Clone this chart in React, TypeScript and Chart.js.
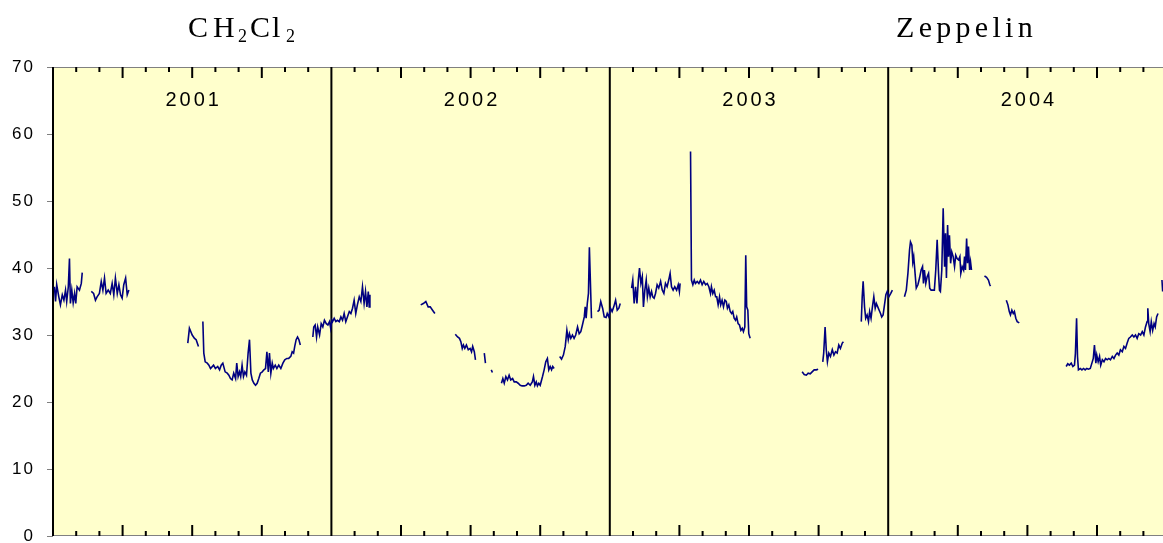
import { useEffect, useRef } from 'react';
import { Chart, registerables } from 'chart.js';

Chart.register(...registerables);

// ---- Data (x in months since Jan 2001, y in ppt) ----
const yearLabels = ['2001', '2002', '2003', '2004'];
const yTickValues = [0, 10, 20, 30, 40, 50, 60, 70];

const t2001 = [
  0.06, 0.11, 0.16, 0.25, 0.32, 0.40, 0.47, 0.54, 0.59, 0.66, 0.71, 0.75, 0.81, 0.87, 0.93, 0.98, 1.04, 1.14, 1.22, 1.26,
  1.45,
  1.65, 1.75, 1.83, 1.90, 2.00, 2.08, 2.15, 2.22, 2.29, 2.38, 2.47, 2.55, 2.62, 2.69, 2.77, 2.84, 2.91, 2.98, 3.05, 3.13, 3.20, 3.27,
  4.50,
  5.81, 5.88, 6.00, 6.10, 6.17, 6.27,
  6.37,
  6.46, 6.50, 6.56, 6.65, 6.72, 6.79, 6.92, 7.00, 7.10, 7.18, 7.25, 7.32, 7.42, 7.51, 7.58, 7.65,
  7.72, 7.79, 7.87, 7.92, 7.98, 8.04, 8.09, 8.15, 8.21, 8.27, 8.34, 8.41, 8.47, 8.53, 8.59, 8.66, 8.73, 8.80, 8.87, 8.94,
  9.02, 9.09, 9.16, 9.22, 9.28, 9.33, 9.39, 9.45, 9.50, 9.58, 9.65, 9.73, 9.82, 9.91, 9.99, 10.08, 10.16, 10.25, 10.31, 10.37,
  10.42, 10.48, 10.54, 10.60, 10.66,
  10.90,
  11.20, 11.24, 11.30, 11.36, 11.41, 11.49, 11.56, 11.63, 11.70, 11.78, 11.85, 11.92, 11.97,
];
const v2001 = [
  37.2, 35.0, 37.5, 35.7, 34.5, 36.0, 35.2, 36.7, 35.0, 37.2, 41.4, 34.7, 36.7, 34.8, 36.2, 34.7, 37.2, 36.7, 37.7, 39.3,
  null,
  36.5, 36.2, 35.2, 35.7, 36.2, 38.0, 36.7, 38.5, 36.2, 36.7, 36.2, 37.7, 36.0, 38.5, 36.2, 37.5, 36.0, 35.5, 37.5, 38.5, 36.0, 36.7,
  null,
  28.8, 31.0, 30.0, 29.5, 29.3, 28.3,
  null,
  32.0, 27.3, 26.0, 25.8, 25.5, 25.0, 25.5, 25.0, 25.3, 24.8, 25.5, 25.8, 24.5, 24.3, 24.0, 23.5,
  23.3, 24.3, 23.5, 25.8, 23.8, 24.5, 23.8, 25.5, 23.8, 24.5, 24.0, 27.3, 29.3, 24.3, 23.3, 22.8, 22.5, 22.8, 23.5, 24.3,
  24.5, 24.8, 25.0, 27.5, 24.5, 27.3, 24.3, 25.8, 25.0, 25.5, 25.0, 25.5, 25.0, 25.8, 26.3, 26.5, 26.5, 26.8, 27.5, 27.3,
  28.3, 29.3, 29.7, 29.3, 28.5,
  null,
  29.7, 31.2, 31.5, 29.7, 31.2, 30.0, 31.7, 31.2, 32.2, 31.7, 31.5, 32.0, 31.0,
];

const t2002 = [
  12.02, 12.05, 12.12, 12.19, 12.26, 12.34, 12.41, 12.48, 12.55, 12.62, 12.69, 12.77, 12.84, 12.91, 12.98, 13.05, 13.12, 13.20, 13.27, 13.34,
  13.41, 13.47, 13.53, 13.59, 13.63, 13.66,
  14.70,
  15.85, 15.96, 16.07, 16.17, 16.26, 16.36, 16.46,
  16.90,
  17.34, 17.44, 17.52, 17.58, 17.64, 17.69, 17.75, 17.82, 17.90, 17.98, 18.04, 18.09, 18.16, 18.21,
  18.40,
  18.59, 18.64,
  18.75,
  18.89, 18.94,
  19.10,
  19.33, 19.39, 19.45, 19.52, 19.59, 19.66, 19.73, 19.81, 19.88, 19.97, 20.05, 20.14, 20.22, 20.31, 20.40, 20.48, 20.57, 20.66, 20.71, 20.77,
  20.83, 20.88, 20.94, 21.00,
  21.10, 21.17, 21.24, 21.31, 21.37, 21.43, 21.49, 21.54, 21.60,
  21.72,
  21.84, 21.92, 22.00, 22.08, 22.15, 22.21, 22.26, 22.32, 22.39, 22.46, 22.53, 22.61, 22.68, 22.75, 22.82, 22.90, 22.94, 22.98, 23.03, 23.08,
  23.12, 23.17, 23.21,
  23.34,
  23.47, 23.54, 23.61, 23.69, 23.76, 23.84, 23.89, 23.96,
];
const v2002 = [
  32.2, 32.0, 32.5, 32.0, 32.2, 32.0, 32.7, 32.2, 33.2, 32.0, 32.7, 33.5, 33.2, 34.0, 35.2, 33.2, 34.5, 35.7, 35.0, 37.2,
  34.7, 36.5, 34.2, 36.5, 34.2, 36.0,
  null,
  34.5, 34.7, 35.0, 34.2, 34.2, 33.7, 33.2,
  null,
  30.1, 29.7, 29.5, 29.0, 28.0, 28.5, 28.0, 28.5, 27.8, 28.0, 27.5, 28.3, 27.5, 26.3,
  null,
  27.3, 25.8,
  null,
  24.8, 24.4,
  null,
  22.8, 23.5, 22.8, 23.8, 23.3, 24.0, 23.3, 23.5, 23.0, 23.0, 22.8, 22.5, 22.4, 22.4, 22.5, 22.8, 22.5, 23.0, 23.8, 22.5,
  23.0, 22.4, 22.8, 22.5,
  23.8, 24.8, 26.0, 26.5, 24.8, 25.3, 24.8, 25.3, 25.0,
  null,
  26.8, 26.4, 27.0, 28.3, 30.7, 29.3, 30.2, 29.5, 30.0, 29.5, 30.0, 31.2, 30.2, 30.5, 31.5, 32.7, 34.2, 32.5, 34.7, 36.2,
  43.1, 37.2, 32.5,
  null,
  33.5, 33.7, 35.0, 34.0, 32.7, 32.6, 33.2, 32.7,
];

const t2003 = [
  24.03, 24.10, 24.17, 24.25, 24.32, 24.39, 24.45,
  24.70,
  24.94, 24.99, 25.05, 25.11, 25.17, 25.23, 25.28, 25.34, 25.40, 25.45, 25.51, 25.57, 25.62, 25.68, 25.74, 25.80, 25.85, 25.91, 25.97, 26.04,
  26.11, 26.19, 26.26, 26.33, 26.40, 26.47, 26.54, 26.60, 26.66, 26.73, 26.80, 26.88, 26.95, 27.00, 27.03,
  27.25,
  27.48, 27.52, 27.58, 27.64, 27.69, 27.77, 27.84, 27.91, 27.98, 28.05, 28.13, 28.20, 28.27, 28.34, 28.38, 28.44, 28.50, 28.56, 28.61, 28.67,
  28.73, 28.78, 28.84, 28.90, 28.96, 29.02, 29.07, 29.13, 29.19, 29.25, 29.30, 29.36, 29.42, 29.47, 29.53, 29.59, 29.65, 29.71, 29.76, 29.82,
  29.86, 29.90, 29.95, 29.99, 30.05,
  31.00,
  32.29, 32.38, 32.47, 32.55, 32.64, 32.72, 32.81, 32.90, 32.98,
  33.08,
  33.18, 33.22, 33.28, 33.33, 33.38, 33.44, 33.51, 33.59, 33.66, 33.73, 33.80, 33.87, 33.94, 34.02, 34.07,
  34.40,
  34.84, 34.88, 34.92, 34.98, 35.03, 35.09, 35.15, 35.20, 35.26, 35.32, 35.38, 35.44, 35.49, 35.55, 35.61, 35.67, 35.72, 35.78, 35.84, 35.90,
  35.96,
];
const v2003 = [
  34.0, 33.5, 34.2, 35.2, 33.7, 34.0, 34.7,
  null,
  37.0, 38.2, 34.7, 37.2, 34.7, 38.2, 40.0, 37.7, 38.7, 34.2, 36.7, 38.2, 35.7, 37.0, 35.7, 36.5, 35.7, 35.5, 36.2, 37.5,
  37.0, 38.0, 36.7, 36.2, 37.7, 37.2, 38.2, 39.2, 37.2, 36.7, 37.2, 36.7, 37.5, 36.5, 37.7,
  null,
  57.4, 38.2, 37.5, 38.2, 37.7, 38.0, 37.7, 38.2, 37.5, 38.0, 37.5, 37.7, 37.2, 36.2, 37.2, 36.2, 36.7, 35.7, 35.7, 34.5,
  35.7, 34.5, 35.2, 34.2, 35.2, 35.0, 34.0, 34.5, 33.5, 33.2, 33.5, 32.5, 32.2, 32.7, 31.7, 31.5, 30.7, 31.0, 30.5, 31.2,
  41.9, 34.2, 33.7, 30.2, 29.5,
  null,
  24.5, 24.1, 24.0, 24.3, 24.2, 24.5, 24.8, 24.8, 24.9,
  null,
  26.0, 27.3, 31.2, 27.8, 26.0, 27.3, 26.8, 27.8, 27.0, 27.5, 27.3, 28.5, 28.0, 28.8, 29.0,
  null,
  32.0, 35.7, 38.0, 34.2, 32.5, 33.0, 32.0, 33.5, 32.5, 34.2, 35.7, 34.0, 34.7, 34.2, 33.7, 33.2, 32.7, 33.0, 34.5, 36.0,
  36.5,
];

const t2004 = [
  36.03, 36.11, 36.18,
  36.45,
  36.70, 36.78, 36.85, 36.92, 36.96, 37.02, 37.06, 37.10, 37.21, 37.28, 37.35, 37.42, 37.48, 37.52, 37.56, 37.62, 37.68, 37.74,
  37.79, 37.85, 37.92, 37.99, 38.05, 38.11, 38.17, 38.21, 38.25, 38.31, 38.37, 38.43, 38.47, 38.51, 38.56, 38.60, 38.64, 38.69, 38.74, 38.80,
  38.86, 38.91, 38.97, 39.03, 39.09, 39.13, 39.19, 39.25, 39.29, 39.33, 39.38, 39.42, 39.46, 39.51, 39.55, 39.59,
  39.90,
  40.15, 40.24, 40.32, 40.38, 40.41,
  40.75,
  41.09, 41.16, 41.22, 41.27, 41.33, 41.39, 41.44, 41.50, 41.56, 41.65,
  42.60,
  43.67, 43.74, 43.81, 43.89, 43.96, 44.03, 44.07, 44.12, 44.16, 44.20, 44.28, 44.35, 44.42, 44.49, 44.56, 44.63, 44.71, 44.78, 44.84, 44.89,
  44.95, 44.99, 45.05, 45.11, 45.16, 45.23, 45.30, 45.37, 45.44, 45.51, 45.58, 45.66, 45.73, 45.80, 45.87, 45.94, 46.01, 46.09, 46.16, 46.23,
  46.30, 46.37, 46.44, 46.52, 46.59, 46.66, 46.73, 46.80, 46.88, 46.95, 47.02, 47.09, 47.16, 47.19, 47.23, 47.29, 47.34, 47.40, 47.46, 47.51,
  47.57, 47.63,
  47.72,
  47.80, 47.83,
];
const v2004 = [
  35.7, 36.2, 36.7,
  null,
  35.7, 36.7, 39.2, 42.7, 43.9, 43.4, 40.9, 41.7, 37.0, 37.5, 38.5, 39.7, 40.2, 37.7, 39.7, 37.7, 38.7, 39.2,
  37.0, 36.7, 36.7, 36.7, 39.7, 44.2, 39.2, 36.7, 36.5, 39.7, 48.9, 40.2, 45.2, 38.5, 46.4, 41.7, 44.9, 40.7, 42.4, 41.7,
  40.2, 41.9, 41.4, 41.2, 41.7, 39.2, 40.2, 39.7, 41.7, 39.7, 44.4, 40.7, 43.2, 39.7, 40.9, 39.7,
  null,
  38.8, 38.6, 38.2, 37.5, 37.3,
  null,
  35.2, 34.5, 33.5, 33.0, 33.7, 33.2, 33.5, 32.5, 32.0, 31.8,
  null,
  25.3, 25.7, 25.5, 25.8, 25.3, 25.5, 27.3, 32.5, 26.8, 24.8, 25.0, 24.8, 25.0, 24.8, 25.0, 24.9, 25.0, 25.8, 26.5, 28.5,
  25.8, 27.0, 26.0, 26.8, 25.5, 26.3, 26.0, 26.5, 26.3, 26.5, 26.3, 26.8, 26.5, 27.0, 27.3, 27.0, 27.8, 27.5, 28.3, 28.0,
  28.8, 29.5, 29.7, 30.0, 29.7, 30.0, 29.5, 30.2, 30.0, 30.5, 30.0, 31.2, 32.0, 34.0, 31.7, 30.5, 32.0, 30.7, 31.7, 31.2,
  32.7, 33.2,
  null,
  38.2, 36.5,
];

const allTimes = [...t2001, ...t2002, ...t2003, ...t2004];
const allValues = [...v2001, ...v2002, ...v2003, ...v2004];

const CANVAS_W = 1180;
const CANVAS_H = 543;

const decorPlugin = {
  id: 'decor',
  beforeDraw(chart: any) {
    const { ctx, chartArea: a } = chart;
    ctx.save();
    ctx.fillStyle = '#FFFFCC';
    ctx.fillRect(a.left, a.top, a.right - a.left, a.bottom - a.top);
    ctx.restore();
    (ctx as any).letterSpacing = '2px';
  },
  beforeDatasetsDraw(chart: any) {
    const { ctx, chartArea: a, scales } = chart;
    (ctx as any).letterSpacing = '0px';
    const xs = scales.x;
    ctx.save();
    // gray top/bottom border
    ctx.strokeStyle = '#808080';
    ctx.lineWidth = 1;
    ctx.beginPath();
    ctx.moveTo(a.left, a.top + 0.5);
    ctx.lineTo(a.right, a.top + 0.5);
    ctx.moveTo(a.left, a.bottom - 0.5);
    ctx.lineTo(a.right, a.bottom - 0.5);
    ctx.stroke();
    // year separators and left axis
    ctx.strokeStyle = '#000000';
    ctx.lineWidth = 2;
    ctx.beginPath();
    for (let y = 0; y < 4; y++) {
      const px = xs.getPixelForValue(y * 12);
      ctx.moveTo(px, a.top);
      ctx.lineTo(px, a.bottom);
    }
    ctx.stroke();
    // month ticks (inward, top and bottom)
    ctx.beginPath();
    for (let k = 1; k < 48; k++) {
      if (k % 12 === 0) continue;
      const px = xs.getPixelForValue(k);
      const len = k % 3 === 0 ? 11 : 5;
      ctx.moveTo(px, a.top);
      ctx.lineTo(px, a.top + len);
      ctx.moveTo(px, a.bottom);
      ctx.lineTo(px, a.bottom - len);
    }
    ctx.stroke();
    // year labels
    ctx.fillStyle = '#000000';
    ctx.font = '20px "Liberation Sans", Arial, sans-serif';
    (ctx as any).letterSpacing = '3px';
    ctx.textAlign = 'center';
    ctx.textBaseline = 'alphabetic';
    yearLabels.forEach((lab, i) => {
      const mid = xs.getPixelForValue(i * 12 + 6);
      ctx.fillText(lab, mid + 1.5, 106);
    });
    // titles
    ctx.textAlign = 'left';
    ctx.font = '30px "Liberation Serif", "Times New Roman", serif';
    (ctx as any).letterSpacing = '4.3px';
    ctx.fillText('Zeppelin', 896, 36.5);
    (ctx as any).letterSpacing = '0px';
    const parts = [
      { t: 'C', dx: 0, sub: false },
      { t: 'H', dx: 25, sub: false },
      { t: '2', dx: 50, sub: true },
      { t: 'C', dx: 62, sub: false },
      { t: 'l', dx: 84, sub: false },
      { t: '2', dx: 98, sub: true },
    ];
    parts.forEach((p) => {
      ctx.font = p.sub
        ? '18px "Liberation Serif", "Times New Roman", serif'
        : '30px "Liberation Serif", "Times New Roman", serif';
      ctx.fillText(p.t, 188 + p.dx, p.sub ? 41.5 : 36.5);
    });
    ctx.restore();
  },
};

export default function App() {
  const ref = useRef<HTMLCanvasElement>(null);
  useEffect(() => {
    const points = allTimes.map((t, i) => ({ x: t, y: allValues[i] }));
    const chart = new Chart(ref.current as HTMLCanvasElement, {
      type: 'line',
      data: {
        datasets: [
          {
            data: points as any,
            borderColor: '#000080',
            borderWidth: 1.6,
            pointRadius: 0,
            tension: 0,
            spanGaps: false,
          },
        ],
      },
      options: {
        animation: false,
        responsive: false,
        devicePixelRatio: 1,
        parsing: false as any,
        layout: { padding: { left: 0, top: 67, bottom: 7, right: CANVAS_W - (53 + 4 * 278.4) } },
        plugins: { legend: { display: false }, tooltip: { enabled: false }, title: { display: false } },
        scales: {
          x: { type: 'linear', min: 0, max: 48, display: false },
          y: {
            type: 'linear',
            min: 0,
            max: 70,
            afterFit: (scale: any) => {
              scale.width = 53;
              scale.paddingTop = 0;
              scale.paddingBottom = 0;
            },
            afterBuildTicks: (scale: any) => {
              scale.ticks = yTickValues.map((v) => ({ value: v }));
            },
            border: { display: false },
            grid: { drawOnChartArea: false, drawTicks: true, tickLength: 6, color: '#808080', lineWidth: 1 },
            ticks: {
              color: '#000000',
              padding: 12,
              font: { family: '"Liberation Sans", Arial, sans-serif', size: 17 },
            },
          },
        },
      },
      plugins: [decorPlugin],
    });
    return () => chart.destroy();
  }, []);
  return (
    <div
      style={{
        position: 'fixed',
        left: 0,
        top: 0,
        width: 1163,
        height: 543,
        overflow: 'hidden',
        background: '#ffffff',
      }}
    >
      <canvas ref={ref} width={CANVAS_W} height={CANVAS_H} style={{ display: 'block' }} />
    </div>
  );
}
